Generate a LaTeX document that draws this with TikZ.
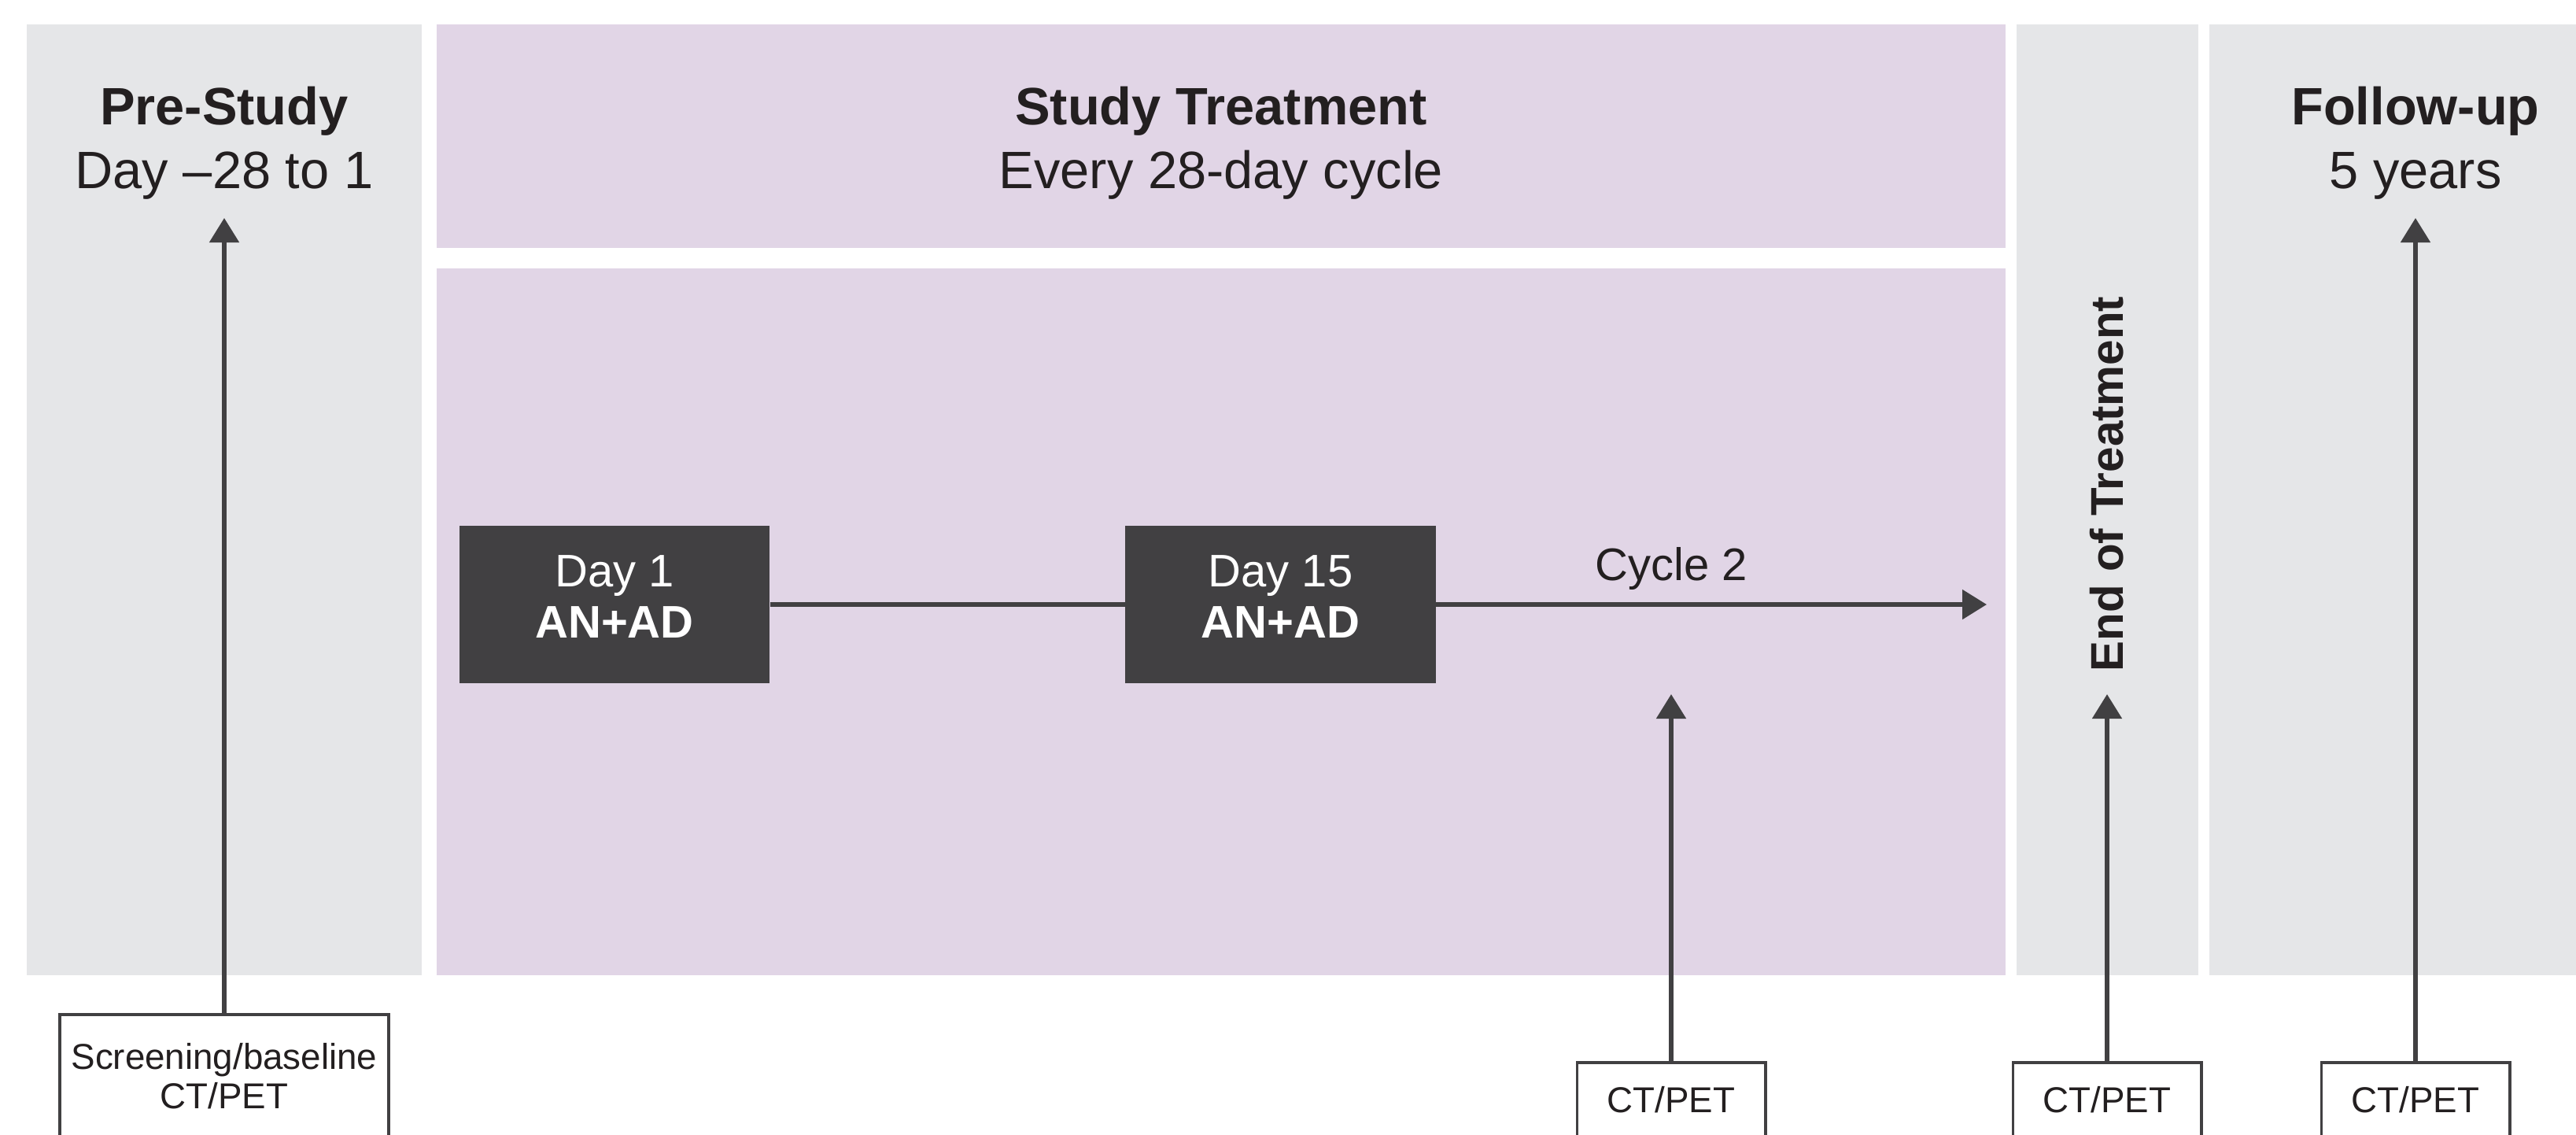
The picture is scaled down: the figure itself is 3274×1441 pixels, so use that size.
\documentclass[tikz,border=0pt]{standalone}
\usepackage{fontspec}
\setmainfont{Liberation Sans}
\usepackage{tikz}
\usetikzlibrary{arrows.meta,positioning}
\usepackage{xcolor}
\definecolor{panelGray}{HTML}{E5E6E8}
\definecolor{panelMauve}{HTML}{E1D5E6}
\definecolor{boxDark}{HTML}{414042}
\definecolor{inkBlack}{HTML}{231F20}

\begin{document}
\begin{tikzpicture}[x=0.01cm, y=-0.01cm,
    head/.style={font=\fontsize{19}{23}\selectfont\bfseries, text=inkBlack, anchor=base, inner sep=0pt},
    sub/.style={font=\fontsize{19}{23}\selectfont, text=inkBlack, anchor=base, inner sep=0pt},
    dose/.style={fill=boxDark, text=white, minimum width=3.94cm, minimum height=2cm, align=center, font=\fontsize{16.5}{18.4}\selectfont, text depth=0.2cm},
    scan/.style={draw=boxDark, line width=1.1pt, fill=white, anchor=north, align=center, text=inkBlack, font=\fontsize{13}{14.2}\selectfont, inner xsep=0pt, inner ysep=0.3cm, text depth=0.6cm},
    arr/.style={-{Triangle[length=3.1mm, width=3.7mm]}, line width=1.45pt, boxDark}]
        \useasboundingbox (0,0) rectangle (3274,1441);
        \clip (0,0) rectangle (3274,1441);
        \fill[white] (0,0) rectangle (3274,1441);
        % phase panels
        \fill[panelGray] (34,31) rectangle (536,1239);
        \fill[panelMauve] (555,31) rectangle (2549,315);
        \fill[panelMauve] (555,341) rectangle (2549,1239);
        \fill[panelGray] (2563,31) rectangle (2794,1239);
        \fill[panelGray] (2808,31) rectangle (3274,1239);
        % phase titles
        \node[head] (prehead) at (285,158) {Pre-Study};
        \node[sub] (presub) at (285,239) {Day –28 to 1};
        \node[head] (trthead) at (1552,158) {Study Treatment};
        \node[sub] (trtsub) at (1552,239) {Every 28-day cycle};
        \node[head] (fuhead) at (3070,158) {Follow-up};
        \node[sub] (fusub) at (3070,239) {5 years};
        \node[head, anchor=center, rotate=90, font=\fontsize{16.6}{20}\selectfont\bfseries] (eot) at (2678,615) {End of Treatment};
        % dosing days
        \node[dose] (day1) at (781,768) {Day 1\\\textbf{AN+AD}};
        \node[dose] (day15) at (1627.5,768) {Day 15\\\textbf{AN+AD}};
        \coordinate (cycend) at (2525,768);
        \draw[line width=1.45pt, boxDark] (day1) -- (day15);
        \draw[arr] (day15) -- (cycend);
        \node[sub, font=\fontsize{16.5}{18.4}\selectfont] (cyc2) at (2124,737) {Cycle 2};
        % imaging
        \node[scan, minimum width=4.17cm, inner ysep=0.36cm] (scr) at (285,1287) {Screening/baseline\\CT/PET};
        \node[scan, minimum width=2.39cm] (ctcyc) at (2124,1348) {CT/PET};
        \node[scan, minimum width=2.39cm] (cteot) at (2678,1348) {CT/PET};
        \node[scan, minimum width=2.39cm] (ctfu) at (3070,1348) {CT/PET};
        \coordinate (pretip) at (285,277);
        \coordinate (cyctip) at (2124,882);
        \coordinate (eottip) at (2678,882);
        \coordinate (futip) at (3070,277);
        \draw[arr] (scr.north) -- (pretip);
        \draw[arr] (ctcyc.north) -- (cyctip);
        \draw[arr] (cteot.north) -- (eottip);
        \draw[arr] (ctfu.north) -- (futip);
      \end{tikzpicture}
\end{document}
